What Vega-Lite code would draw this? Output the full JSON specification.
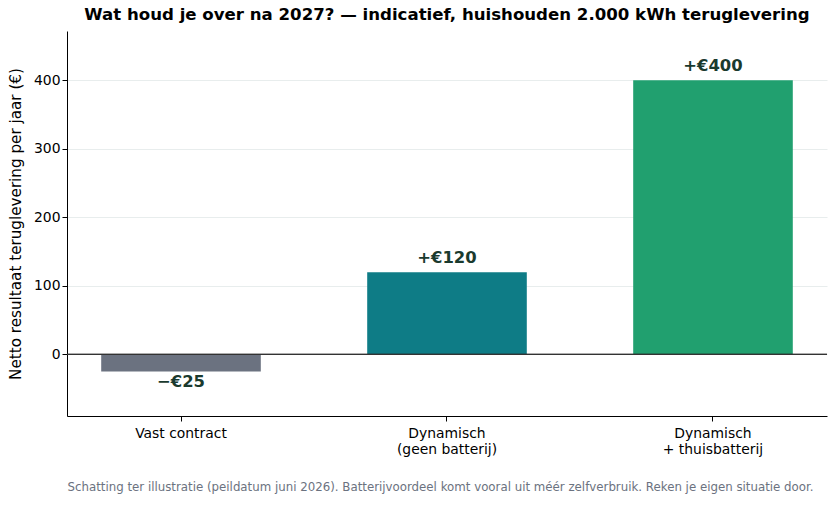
{
  "$schema": "https://vega.github.io/schema/vega-lite/v6.json",
  "autosize": "none",
  "width": 760,
  "height": 385,
  "padding": {"left": 67, "top": 31, "right": 10, "bottom": 90},
  "background": "white",
  "config": {
    "font": "DejaVu Sans",
    "view": {"stroke": null},
    "axis": {"labelFont": "DejaVu Sans", "titleFont": "DejaVu Sans"}
  },
  "title": {
    "text": "Wat houd je over na 2027? — indicatief, huishouden 2.000 kWh teruglevering",
    "font": "DejaVu Sans",
    "fontSize": 16.6,
    "fontWeight": "bold",
    "color": "#000000",
    "anchor": "middle",
    "offset": 7
  },
  "data": {
    "values": [
      {"scenario": "Vast contract", "value": -25, "label": "−€25"},
      {"scenario": "Dynamisch|(geen batterij)", "value": 120, "label": "+€120"},
      {"scenario": "Dynamisch|+ thuisbatterij", "value": 400, "label": "+€400"}
    ]
  },
  "encoding": {
    "x": {
      "field": "scenario",
      "type": "nominal",
      "sort": null,
      "scale": {"paddingInner": 0.4, "paddingOuter": 0.1286},
      "axis": {
        "labelExpr": "split(datum.value, '|')",
        "labelAngle": 0,
        "labelFontSize": 13.9,
        "labelColor": "#000000",
        "labelPadding": 5,
        "labelLineHeight": 16,
        "domainColor": "#000000",
        "tickColor": "#000000",
        "tickSize": 5,
        "title": "Schatting ter illustratie (peildatum juni 2026). Batterijvoordeel komt vooral uit méér zelfverbruik. Reken je eigen situatie door.",
        "titleFontSize": 11.8,
        "titleFontWeight": "normal",
        "titleColor": "#6b7280",
        "titleAnchor": "start",
        "titleAlign": "left",
        "titlePadding": 26
      }
    },
    "y": {
      "field": "value",
      "type": "quantitative",
      "scale": {"domain": [-90, 472], "nice": false, "zero": false},
      "axis": {
        "values": [0, 100, 200, 300, 400],
        "title": "Netto resultaat teruglevering per jaar (€)",
        "titleFontSize": 15.2,
        "titleFontWeight": "normal",
        "titleColor": "#000000",
        "titlePadding": 10,
        "labelFontSize": 13.9,
        "labelColor": "#000000",
        "domainColor": "#000000",
        "tickColor": "#000000",
        "tickSize": 5,
        "gridColor": "#e2e8e8",
        "gridWidth": 0.8
      }
    }
  },
  "layer": [
    {
      "mark": {"type": "bar"},
      "encoding": {
        "color": {
          "field": "scenario",
          "type": "nominal",
          "scale": {
            "domain": ["Vast contract", "Dynamisch|(geen batterij)", "Dynamisch|+ thuisbatterij"],
            "range": ["#6b7280", "#0e7c86", "#21a06f"]
          },
          "legend": null
        }
      }
    },
    {
      "mark": {"type": "rule", "color": "#333333", "strokeWidth": 1},
      "encoding": {"y": {"datum": 0}, "x": {"value": 0}, "x2": {"value": 760}}
    },
    {
      "transform": [{"filter": "datum.value >= 0"}],
      "mark": {"type": "text", "baseline": "alphabetic", "dy": -9, "fontSize": 16.4, "fontWeight": "bold", "color": "#1a3a2e"},
      "encoding": {"text": {"field": "label"}}
    },
    {
      "transform": [{"filter": "datum.value < 0"}],
      "mark": {"type": "text", "baseline": "top", "dy": 3, "fontSize": 16.4, "fontWeight": "bold", "color": "#1a3a2e"},
      "encoding": {"text": {"field": "label"}}
    }
  ]
}
